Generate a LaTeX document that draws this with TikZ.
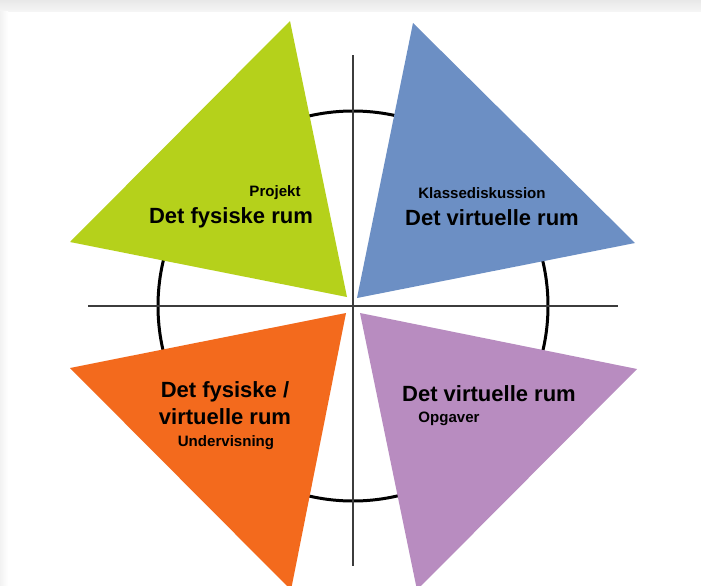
\documentclass[tikz,border=0pt]{standalone}
\usepackage{fontspec}
\setmainfont{Liberation Sans}
\definecolor{gruen}{RGB}{181,209,27}
\definecolor{blaa}{RGB}{108,143,196}
\definecolor{orange}{RGB}{243,106,29}
\definecolor{lilla}{RGB}{184,140,192}
\definecolor{akse}{RGB}{60,60,60}
\begin{document}
\begin{tikzpicture}[x=0.75pt, y=-0.75pt,
	stor/.style={font=\fontsize{16.5}{20.8}\selectfont\bfseries, align=center, inner sep=0pt},
	lille/.style={font=\fontsize{11.3}{12}\selectfont\bfseries, inner sep=0pt}]
	\clip (0,0) rectangle (701,586);
	\fill[white] (0,0) rectangle (701,586);
	% ramme
	\shade[top color=black!9, bottom color=black!4] (0,0) rectangle (701,11);
	\shade[left color=black!5, right color=white] (0,11) rectangle (8,586);
	% cirkel og akser
	\draw[line width=2.25pt] (353,306) circle (195);
	\draw[akse, line width=1.1pt] (353,55) -- (353,566);
	\draw[akse, line width=1.1pt] (88,306) -- (618,306);
	% trekanter
	\fill[gruen] (290,21) -- (70,242) -- (347,297) -- cycle;
	\fill[blaa] (413,23) -- (635,243) -- (357,298) -- cycle;
	\fill[orange] (346,313) -- (70,368) -- (291,590) -- cycle;
	\fill[lilla] (360,313) -- (637,369) -- (417,590) -- cycle;
	% tekster
	\node[lille] (projekt) at (275,193) {Projekt};
	\node[stor] (fysisk) at (231,218) {Det fysiske rum};
	\node[lille] (klasse) at (482,193) {Klassediskussion};
	\node[stor] (virtuel) at (492,218) {Det virtuelle rum};
	\node[stor] (begge) at (225,403) {Det fysiske /\\virtuelle rum};
	\node[lille] (underv) at (226,443) {Undervisning};
	\node[stor] (virtuel2) at (489,394) {Det virtuelle rum};
	\node[lille] (opgaver) at (449,419) {Opgaver};
\end{tikzpicture}
\end{document}
